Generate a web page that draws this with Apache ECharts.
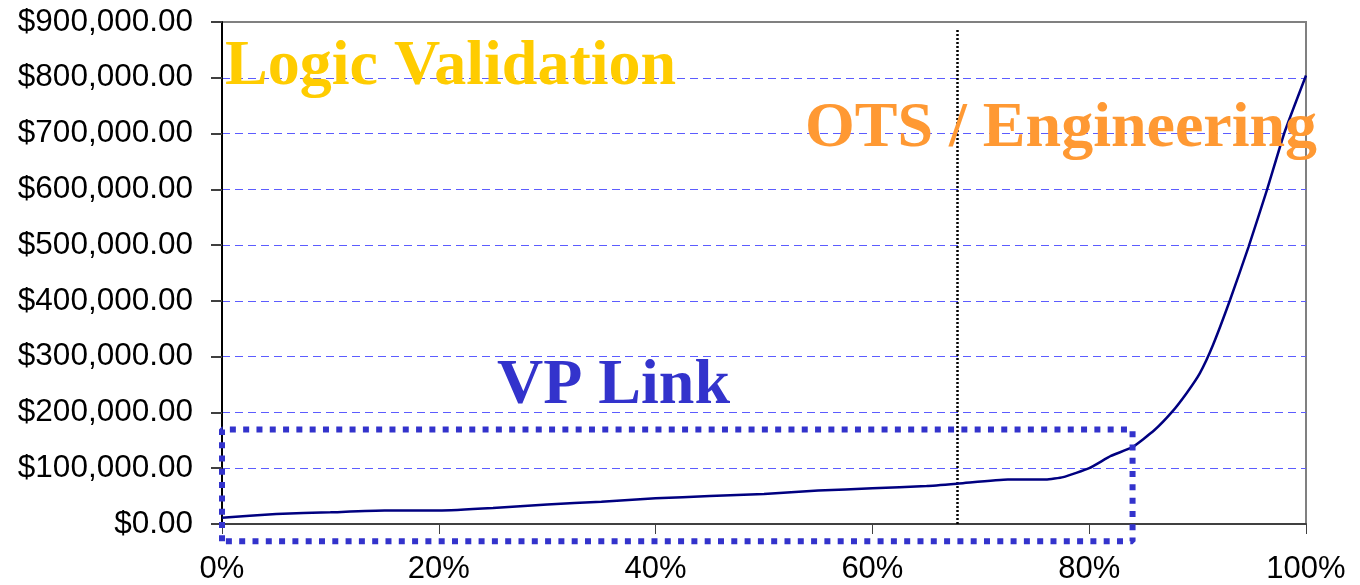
<!DOCTYPE html>
<html>
<head>
<meta charset="utf-8">
<script src="https://cdn.jsdelivr.net/npm/echarts@6/dist/echarts.min.js"></script>
<style>
  html, body { margin: 0; padding: 0; background: #fff; }
  #chart { width: 1360px; height: 585px; }
</style>
</head>
<body>
<div id="chart"></div>
<script>
// share of items (0..1) and cumulative cost
const shares = [0, 0.05, 0.10, 0.15, 0.20, 0.25, 0.30, 0.35, 0.40, 0.45, 0.50, 0.55, 0.60, 0.65, 0.68,
    0.725, 0.76, 0.776, 0.80, 0.82, 0.84, 0.86, 0.876, 0.89, 0.902, 0.914, 0.93, 0.947, 0.964, 0.98, 1.00];
const costs = [11000, 18000, 21000, 24000, 24000, 28500, 35000, 40000, 46000, 50000, 54000, 60000, 64000, 68000, 72500,
    79700, 79700, 84000, 100000, 122000, 138000, 168000, 200000, 235000, 270000, 320000, 402000, 497000, 599000, 701000, 804000];

const yTicks = [0, 100000, 200000, 300000, 400000, 500000, 600000, 700000, 800000, 900000];
const xTicks = [0, 0.2, 0.4, 0.6, 0.8, 1];

// annotation: "VP Link" region and OTS boundary, in data units
const boxLeft = 0, boxRight = 0.84, boxTop = 169500, boxBottom = -31000;
const otsShare = 0.678, otsTop = 886000;

const money = v => '$' + v.toFixed(2).replace(/\B(?=(\d{3})+(?!\d))/g, ',');

window.onload = () => {
    const chart = echarts.init(document.getElementById('chart'));

    const curve = shares.map((s, i) => [s, costs[i]]);
    const box = [[boxLeft, boxBottom], [boxLeft, boxTop], [boxRight, boxTop], [boxRight, boxBottom], [boxLeft, boxBottom]];

    // y is the top of the text box
    const bigText = (text, x, y, color) => ({
        type: 'text',
        x: x, y: y,
        z: 100,
        style: {
            text: text,
            fill: color,
            font: 'bold 64px "Liberation Serif", "Times New Roman", serif'
        }
    });

    chart.setOption({
        animation: false,
        backgroundColor: '#fff',
        grid: {
            left: 222, right: 54, top: 22, bottom: 61,
            show: true, borderColor: '#808080', borderWidth: 2, backgroundColor: '#fff'
        },
        xAxis: {
            type: 'value',
            min: xTicks[0], max: xTicks[xTicks.length - 1], interval: 0.2,
            axisLine: { lineStyle: { color: '#404040', width: 2 } },
            axisTick: { show: true, length: 10, lineStyle: { color: '#404040', width: 1 } },
            axisLabel: {
                margin: 30,
                color: '#000',
                fontSize: 31,
                fontFamily: '"Liberation Sans", Arial, sans-serif',
                formatter: v => Math.round(v * 100) + '%'
            },
            splitLine: { show: false }
        },
        yAxis: {
            type: 'value',
            min: yTicks[0], max: yTicks[yTicks.length - 1], interval: 100000,
            axisLine: { show: true, lineStyle: { color: '#000', width: 2 } },
            axisTick: { show: true, length: 11, lineStyle: { color: '#404040', width: 2 } },
            axisLabel: {
                margin: 29,
                color: '#000',
                fontSize: 31.5,
                fontFamily: '"Liberation Sans", Arial, sans-serif',
                formatter: money
            },
            splitLine: {
                show: true, showMinLine: false, showMaxLine: false,
                lineStyle: { color: '#5c5cff', width: 1, type: [8, 5] }
            }
        },
        series: [
            {
                type: 'line',
                data: curve,
                showSymbol: false,
                smooth: 0.15,
                lineStyle: { color: '#000080', width: 2.5 },
                z: 5,
                markLine: {
                    silent: true,
                    symbol: 'none',
                    label: { show: false },
                    lineStyle: { color: '#000', width: 2.5, type: [2, 2] },
                    data: [[{ coord: [otsShare, 0] }, { coord: [otsShare, otsTop] }]]
                }
            },
            {
                type: 'line',
                data: box,
                showSymbol: false,
                clip: false,
                z: 6,
                lineStyle: { color: '#3333cc', width: 6, type: [6, 7.3], cap: 'butt' }
            }
        ],
        graphic: [
            bigText('Logic Validation', 225, 35, '#ffcc00'),
            bigText('OTS / Engineering', 805, 97, '#ff9933'),
            bigText('VP Link', 497, 354, '#3333cc')
        ]
    });
};
</script>
</body>
</html>
